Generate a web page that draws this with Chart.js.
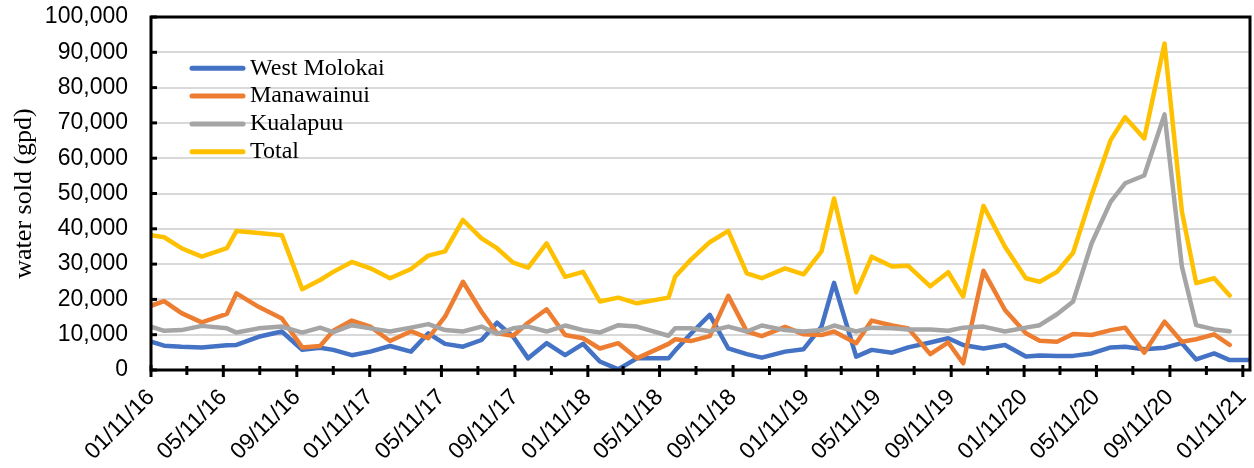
<!DOCTYPE html>
<html>
<head>
<meta charset="utf-8">
<title>water sold</title>
<script src="https://cdn.jsdelivr.net/npm/chart.js@4.4.0/dist/chart.umd.min.js"></script>
<style>
  html, body { margin: 0; padding: 0; background: #fff; }
  #wrap { width: 1254px; height: 468px; }
</style>
</head>
<body>
<div id="wrap"><canvas id="chart" width="1254" height="468"></canvas></div>
<script>
// reading dates (the last one only has a West Molokai value)
const readDates = [
  "2016-01-11", "2016-02-02", "2016-03-02", "2016-04-05", "2016-05-17", "2016-06-02",
  "2016-07-09", "2016-08-17", "2016-09-20", "2016-10-20", "2016-11-11", "2016-12-12",
  "2017-01-12", "2017-02-14", "2017-03-21", "2017-04-19", "2017-05-17", "2017-06-16",
  "2017-07-17", "2017-08-12", "2017-09-08", "2017-10-03", "2017-11-03", "2017-12-04",
  "2018-01-03", "2018-01-31", "2018-03-03", "2018-04-03", "2018-05-26", "2018-06-06",
  "2018-07-02", "2018-08-03", "2018-09-03", "2018-10-04", "2018-10-29", "2018-12-07",
  "2019-01-07", "2019-02-06", "2019-02-27", "2019-04-05", "2019-05-01", "2019-06-04",
  "2019-07-01", "2019-08-07", "2019-09-06", "2019-10-01", "2019-11-04", "2019-12-10",
  "2020-01-14", "2020-02-06", "2020-03-06", "2020-04-02", "2020-05-03", "2020-06-04",
  "2020-06-28", "2020-07-30", "2020-09-02", "2020-10-01", "2020-10-25", "2020-11-24",
  "2020-12-20", "2021-01-23"
];

const westMolokai = [
  8000, 6900, 6600, 6400, 7000, 7100, 9400, 10900, 5700, 6300, 5700, 4200,
  5200, 6800, 5200, 10400, 7400, 6600, 8500, 13400, 9400, 3300, 7600, 4200,
  7400, 2400, 200, 3300, 3300, 5500, 10200, 15600, 6100, 4500, 3500, 5200,
  5900, 12300, 24700, 3800, 5700, 4900, 6400, 7800, 9000, 7100, 6100, 7100,
  3800, 4100, 4000, 4000, 4700, 6400, 6600, 5900, 6300, 7600, 3000, 4700,
  2800, 2800
];

const manawainui = [
  18200, 19500, 16100, 13500, 15900, 21700, 17900, 14600, 6400, 6800, 11100, 14000,
  12300, 8200, 11000, 9000, 15100, 25000, 16500, 10400, 9700, 13400, 17200, 9900,
  9000, 6100, 7600, 3300, 7400, 8700, 8200, 9600, 21000, 10900, 9600, 12200,
  10100, 9900, 10900, 7600, 14000, 12600, 11800, 4500, 7800, 1900, 28100, 17000,
  10400, 8300, 8000, 10200, 9900, 11300, 12000, 4900, 13700, 8000, 8700, 10100,
  7100
];

const kualapuu = [
  12300, 11100, 11300, 12500, 11800, 10600, 11800, 12300, 10600, 12000, 10700, 12700,
  11800, 10900, 12000, 13000, 11300, 10900, 12300, 10200, 11800, 12300, 10900, 12600,
  11300, 10600, 12700, 12300, 9700, 11800, 11800, 11000, 12300, 10900, 12600, 11300,
  10900, 11300, 12600, 10900, 12000, 11800, 11500, 11500, 11100, 12000, 12300, 10900,
  12000, 12700, 15800, 19400, 35900, 47700, 52900, 55100, 72400, 29300, 12700, 11500,
  11000
];

const total = [
  38200, 37600, 34500, 32100, 34500, 39400, 38800, 38200, 22900, 25500, 27800, 30600,
  28800, 26000, 28600, 32400, 33600, 42500, 37300, 34500, 30400, 29000, 35900, 26400,
  27800, 19400, 20500, 18900, 20500, 26400, 31200, 36200, 39400, 27400, 26000, 28800,
  27100, 33600, 48600, 22000, 32100, 29300, 29500, 23700, 27700, 20800, 46500, 34900,
  26000, 25000, 27800, 33200, 49600, 65200, 71600, 65600, 92500, 44900, 24600, 26000,
  21100
];

const seriesNames = ["West Molokai", "Manawainui", "Kualapuu", "Total"];
const seriesColors = ["#4472C4", "#ED7D31", "#A5A5A5", "#FFC000"];
const xTickLabels = ["01/11/16", "05/11/16", "09/11/16", "01/11/17", "05/11/17", "09/11/17",
  "01/11/18", "05/11/18", "09/11/18", "01/11/19", "05/11/19", "09/11/19",
  "01/11/20", "05/11/20", "09/11/20", "01/11/21"];
const yMax = 100000;
const yStep = 10000;

// days since the first reading
const DAY = 86400000;
const t0 = Date.parse(readDates[0]);
const dayOf = s => (Date.parse(s) - t0) / DAY;
const labelDay = lbl => {
  const [mm, dd, yy] = lbl.split("/").map(Number);
  return (Date.UTC(2000 + yy, mm - 1, dd) - t0) / DAY;
};
const days = readDates.map(dayOf);

// labelled ticks every 4 months plus an unlabelled one in between
const xTicks = [];
xTickLabels.forEach((lbl, i) => {
  xTicks.push({ value: labelDay(lbl), label: lbl, major: true });
  if (i < xTickLabels.length - 1) {
    const [mm, dd, yy] = lbl.split("/").map(Number);
    xTicks.push({ value: (Date.UTC(2000 + yy, mm + 1, dd) - t0) / DAY, label: "", major: false });
  }
});
xTicks.sort((a, b) => a.value - b.value);

const toPoints = arr => arr.map((v, i) => ({ x: days[i], y: v }));
const seriesValues = [westMolokai, manawainui, kualapuu, total];

// keep the plot box where the reference has it
const noPad = scale => {
  scale.paddingTop = 0;
  scale.paddingBottom = 0;
  scale.paddingLeft = 0;
  scale.paddingRight = 0;
};

// === рамка, засічки та легенда ===
const framePlugin = {
  id: "frame",
  afterDatasetsDraw(chart) {
    const { ctx, chartArea: a, scales } = chart;
    ctx.save();
    ctx.strokeStyle = "#000";
    ctx.lineWidth = 3;
    ctx.strokeRect(a.left, a.top, a.right - a.left, a.bottom - a.top);

    // y ticks, inside the plot
    for (let v = 0; v <= yMax; v += yStep) {
      const y = scales.y.getPixelForValue(v);
      ctx.beginPath();
      ctx.moveTo(a.left, y);
      ctx.lineTo(a.left + 6, y);
      ctx.stroke();
    }
    // x ticks, crossing the axis
    xTicks.forEach(t => {
      const x = scales.x.getPixelForValue(t.value);
      ctx.beginPath();
      ctx.moveTo(x, a.bottom - (t.major ? 5 : 4));
      ctx.lineTo(x, a.bottom + (t.major ? 7 : 5));
      ctx.stroke();
    });

    // legend
    ctx.lineCap = "round";
    ctx.font = '24px "Liberation Serif"';
    ctx.textBaseline = "middle";
    ctx.textAlign = "left";
    seriesNames.forEach((name, i) => {
      const y = 68.3 + i * 27.8;
      ctx.strokeStyle = seriesColors[i];
      ctx.lineWidth = 5;
      ctx.beginPath();
      ctx.moveTo(192, y);
      ctx.lineTo(243, y);
      ctx.stroke();
      ctx.fillStyle = "#000";
      ctx.fillText(name, 250, y);
    });
    ctx.restore();
  }
};

new Chart(document.getElementById("chart"), {
  type: "line",
  data: {
    datasets: seriesNames.map((name, i) => ({
      label: name,
      data: toPoints(seriesValues[i]),
      borderColor: seriesColors[i],
      backgroundColor: seriesColors[i],
      borderWidth: 4.5,
      borderJoinStyle: "round",
      borderCapStyle: "round",
      pointRadius: 0,
      tension: 0,
      fill: false,
      order: seriesNames.length - 1 - i
    }))
  },
  options: {
    responsive: false,
    animation: false,
    layout: { padding: { top: 17, right: 4, left: 0, bottom: 0 } },
    plugins: { legend: { display: false }, tooltip: { enabled: false } },
    scales: {
      x: {
        type: "linear",
        min: 0,
        max: days[days.length - 1],
        afterBuildTicks: scale => { scale.ticks = xTicks.map(t => ({ value: t.value })); },
        afterFit: scale => { scale.height = 98; noPad(scale); },
        grid: { display: false, drawTicks: false },
        border: { display: false },
        ticks: {
          autoSkip: false,
          minRotation: 45,
          maxRotation: 45,
          padding: 14,
          color: "#000",
          font: { family: "Liberation Sans", size: 23 },
          callback: (value, index) => xTicks[index] ? xTicks[index].label : ""
        }
      },
      y: {
        min: 0,
        max: yMax,
        afterFit: scale => { scale.width = 151; noPad(scale); },
        grid: { color: "#D9D9D9", lineWidth: 2, drawTicks: false },
        border: { display: false },
        ticks: {
          stepSize: yStep,
          padding: 23,
          color: "#000",
          font: { family: "Liberation Sans", size: 23 },
          callback: v => v.toLocaleString("en-US")
        },
        title: {
          display: true,
          text: "water sold (gpd)",
          color: "#000",
          font: { family: "Liberation Serif", size: 26, lineHeight: 1.2 },
          padding: { top: 9, bottom: 0 }
        }
      }
    }
  },
  plugins: [framePlugin]
});
</script>
</body>
</html>
